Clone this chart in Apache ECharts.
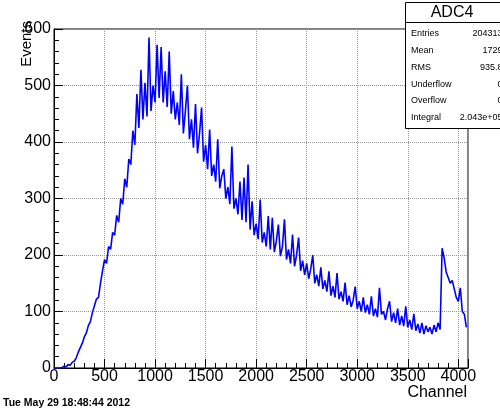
<!DOCTYPE html>
<html><head><meta charset="utf-8">
<script src="https://cdn.jsdelivr.net/npm/echarts@6/dist/echarts.min.js"></script>
<style>html,body{margin:0;padding:0;background:#fff}#c{width:500px;height:408px}</style>
</head><body><div id="c"></div>
<script>
// Histogram ADC4: counts per 20-channel step
const binWidth = 20;
const counts = [
  0,0,0,0,1,3,2,6,5,10,
  12,18,28,36,44,55,62,75,82,98,
  110,122,125,150,172,192,185,215,210,240,
  235,270,258,300,290,335,320,370,360,420,
  395,485,425,528,440,505,445,585,455,500,
  470,572,478,568,470,525,462,560,450,490,
  440,470,430,520,415,455,500,405,440,390,
  467,380,415,461,365,395,352,422,340,360,
  330,405,318,340,352,300,320,290,392,282,
  300,272,330,262,337,258,360,245,295,235,
  255,228,298,222,240,215,269,210,266,205,
  225,254,198,215,263,192,210,185,236,180,
  200,231,172,190,165,185,158,175,200,150,
  165,145,178,140,155,135,171,128,145,125,
  168,122,135,118,151,112,128,108,120,144,
  105,118,100,125,98,112,95,127,92,105,
  90,142,95,100,85,105,118,82,98,80,
  105,76,92,74,109,72,85,68,96,66,
  78,62,80,60,75,64,72,60,76,64,
  80,68,212,195,170,160,150,155,140,125,
  118,142,100,95,72
];
const xTicks = [0, 500, 1000, 1500, 2000, 2500, 3000, 3500, 4000];
const yTicks = [0, 100, 200, 300, 400, 500, 600];
const statsTitle = 'ADC4';
const statsLabels = ['Entries', 'Mean', 'RMS', 'Underflow', 'Overflow', 'Integral'];
const statsValues = ['204313', '1729', '935.8', '0', '0', '2.043e+05'];
const xName = 'Channel';
const yName = 'Events';
const dateText = 'Tue May 29 18:48:44 2012';

const FONT = '"Liberation Sans", Arial, Helvetica, sans-serif';
const data = counts.map((v, i) => [i * binWidth, v]);

const chart = echarts.init(document.getElementById('c'), null, {renderer: 'canvas'});

const rowY = [34, 51, 68, 85, 101, 118];
const graphics = [
  {type: 'text', left: 3, top: 398, style: {text: dateText, font: 'bold 10.5px ' + FONT, fill: '#000'}},
  {type: 'text', right: 33, top: 385, style: {text: xName, font: '16px ' + FONT, fill: '#000'}},
  {type: 'text', x: 19, y: 21, rotation: Math.PI / 2, style: {text: yName, font: '15px ' + FONT, fill: '#000', align: 'right', verticalAlign: 'top'}},
  {type: 'rect', shape: {x: 405.5, y: 2.5, width: 100, height: 126}, style: {fill: '#fff', stroke: '#000', lineWidth: 1}, z: 10},
  {type: 'line', shape: {x1: 405.5, y1: 22.5, x2: 500, y2: 22.5}, style: {stroke: '#000', lineWidth: 1}, z: 10},
  {type: 'text', x: 452, y: 13, style: {text: statsTitle, font: '16px ' + FONT, fill: '#000', align: 'center', verticalAlign: 'middle'}, z: 11}
];
statsLabels.forEach((lab, i) => {
  graphics.push({type: 'text', x: 411, y: rowY[i], style: {text: lab, font: '9px ' + FONT, fill: '#000', verticalAlign: 'middle'}, z: 11});
  graphics.push({type: 'text', x: 502.5, y: rowY[i], style: {text: statsValues[i], font: '9px ' + FONT, fill: '#000', align: 'right', verticalAlign: 'middle'}, z: 11});
});

chart.setOption({
  animation: false,
  backgroundColor: '#fff',
  grid: {left: 54, right: 32, top: 29, bottom: 40, show: true, borderColor: '#000', borderWidth: 1, backgroundColor: 'transparent'},
  xAxis: {
    type: 'value', min: 0, max: 4096, interval: 500,
    axisLine: {show: true, lineStyle: {color: '#000', width: 1}},
    axisTick: {show: true, inside: true, length: 9, lineStyle: {color: '#000'}},
    minorTick: {show: true, splitNumber: 5, length: 5, lineStyle: {color: '#000'}},
    axisLabel: {margin: 1, color: '#000', fontSize: 16, fontFamily: FONT, showMaxLabel: false,
      formatter: v => xTicks.indexOf(v) >= 0 ? String(v) : ''},
    splitLine: {show: true, lineStyle: {type: 'dotted', color: '#999', width: 1}},
    minorSplitLine: {show: false}
  },
  yAxis: {
    type: 'value', min: 0, max: 600, interval: 100,
    axisLine: {show: true, lineStyle: {color: '#000', width: 1}},
    axisTick: {show: true, inside: true, length: 9, lineStyle: {color: '#000'}},
    minorTick: {show: true, splitNumber: 5, length: 5, lineStyle: {color: '#000'}},
    axisLabel: {margin: 3, color: '#000', fontSize: 16, fontFamily: FONT,
      formatter: v => yTicks.indexOf(v) >= 0 ? String(v) : ''},
    splitLine: {show: true, lineStyle: {type: 'dotted', color: '#999', width: 1}}
  },
  series: [{
    type: 'line', data: data, showSymbol: false, symbol: 'none', sampling: false,
    lineStyle: {color: '#0000ff', width: 1.6}, itemStyle: {color: '#0000ff'}
  }],
  graphic: graphics
});
</script>
</body></html>
